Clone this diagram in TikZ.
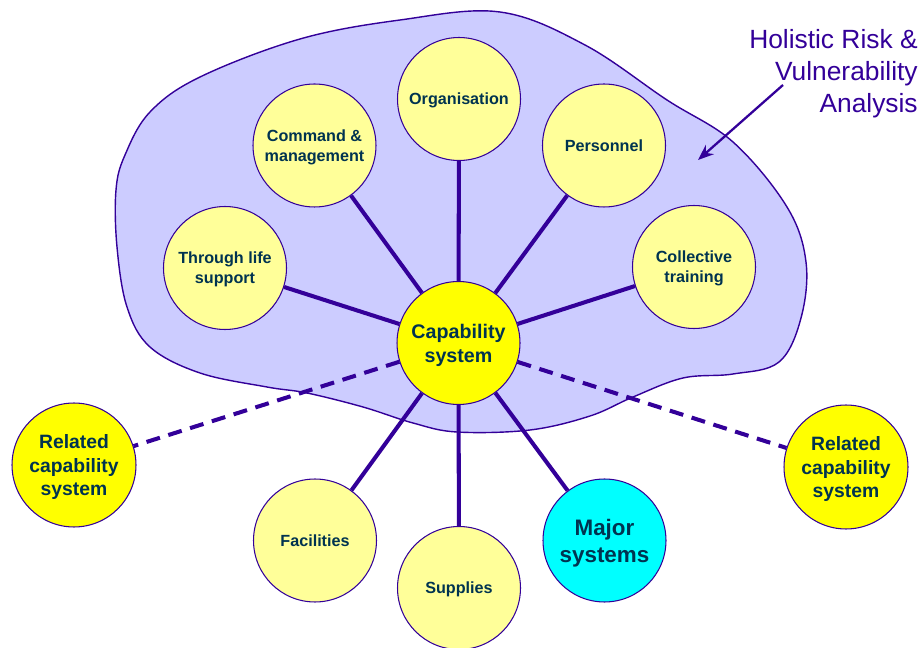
\documentclass[tikz,border=0pt]{standalone}
\usepackage{fontspec}
\setmainfont{Liberation Sans}
\usetikzlibrary{arrows.meta}
\definecolor{blobfill}{RGB}{204,204,255}
\definecolor{linecol}{RGB}{51,0,153}
\definecolor{textcol}{RGB}{0,51,80}
\definecolor{paleyellow}{RGB}{255,255,153}
\definecolor{brightyellow}{RGB}{255,255,0}
\definecolor{cyanfill}{RGB}{0,255,255}
\tikzset{
  x=0.02cm, y=-0.02cm, % one unit is one pixel, y runs downwards
  element/.style={circle, draw=linecol, line width=0.6pt, fill=paleyellow, minimum size=2.46cm, inner sep=0pt, text depth=0pt, align=center, text=textcol, font=\bfseries\fontsize{9.2}{11.4}\selectfont}, % the pale circles
  core/.style={element, fill=brightyellow, font=\bfseries\fontsize{11.2}{13.6}\selectfont}, % the middle circle
  related/.style={element, fill=brightyellow, minimum size=2.48cm, font=\bfseries\fontsize{11}{13.3}\selectfont},
  major/.style={element, fill=cyanfill, font=\bfseries\fontsize{12.75}{15.3}\selectfont},
  spoke/.style={draw=linecol, line width=2.3pt}, % solid links to the centre
  link/.style={spoke, dash pattern=on 8pt off 5pt}, % dashed links to related systems
  note/.style={align=right, inner sep=0pt, text=linecol, font=\fontsize{15}{18.1}\selectfont},
}

\begin{document}
\begin{tikzpicture}
  \useasboundingbox (0,0) rectangle (920,648);

  % the analysis area
  \draw[draw=linecol, line width=0.8pt, fill=blobfill] plot[smooth cycle, tension=0.6] coordinates {
    (500,12) (585,45) (667,100) (733,142) (787,207) (806,262) (801,318) (779,362) (733,374) (683,378)
    (633,397) (590,416) (530,430) (457,432) (413,423) (363,407) (307,393) (267,387) (200,373) (150,347)
    (127,307) (117,247) (116,190) (125,155) (150,112) (200,77) (300,39) (400,20)};

  \node[core] (C_SYS) at (458.5,343) {Capability\\system};
  \node[element] (ORG) at (459,99) {Organisation};
  \node[element] (CMD) at (314.5,145.5) {Command \&\\management};
  \node[element] (PERS) at (604,145.5) {Personnel};
  \node[element] (TLS) at (225,268) {Through life\\support};
  \node[element] (COLL) at (694,267) {Collective\\training};
  \node[element] (FAC) at (315,540.5) {Facilities};
  \node[element] (SUP) at (459,588) {Supplies};
  \node[major] (MAJ) at (604.5,540.5) {Major\\systems};
  \node[related] (REL_L) at (74,465) {Related\\capability\\system};
  \node[related] (REL_R) at (846,467) {Related\\capability\\system};

  \draw (C_SYS) edge[spoke] (ORG);
  \draw (C_SYS) edge[spoke] (CMD);
  \draw (C_SYS) edge[spoke] (PERS);
  \draw (C_SYS) edge[spoke] (TLS);
  \draw (C_SYS) edge[spoke] (COLL);
  \draw (C_SYS) edge[spoke] (FAC);
  \draw (C_SYS) edge[spoke] (SUP);
  \draw (C_SYS) edge[spoke] (MAJ);
  \draw (C_SYS) edge[link] (REL_L);
  \draw (C_SYS) edge[link] (REL_R);

  % label and its pointer
  \node[note, anchor=north east] (HRVA) at (918,29) {Holistic Risk \&\\Vulnerability\\Analysis};
  \coordinate (HRVA_TAIL) at (783,85);
  \coordinate (HRVA_HEAD) at (698,160);
  \draw[draw=linecol, line width=1.3pt, -{Stealth[length=9pt, width=7pt]}] (HRVA_TAIL) -- (HRVA_HEAD);
\end{tikzpicture}
\end{document}
